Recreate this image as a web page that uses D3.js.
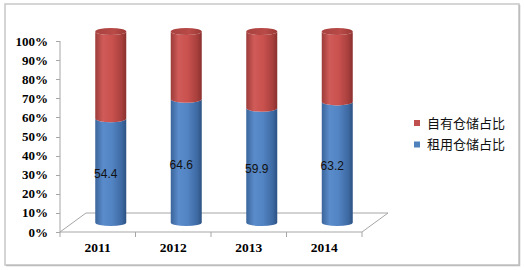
<!DOCTYPE html>
<html>
<head>
<meta charset="utf-8">
<script src="https://cdn.jsdelivr.net/npm/d3@7"></script>
<style>
  body { margin: 0; background: #fff; }
  svg { display: block; }
</style>
</head>
<body>
<script>
var years = ["2011", "2012", "2013", "2014"],
    rented = [54.4, 64.6, 59.9, 63.2],
    seriesNames = ["自有仓储占比", "租用仓储占比"],
    yTicks = [0, 10, 20, 30, 40, 50, 60, 70, 80, 90, 100];

var width = 524, height = 270;

// plot floor: front edge y=232, back edge shifted by depth
var depthX = 26, depthY = -19;

var x = d3.scaleBand()
    .domain(years)
    .range([60, 362]);

var y = d3.scaleLinear()
    .domain([0, 100])
    .range([232, 41]);

var svg = d3.select("body").append("svg")
    .attr("width", width)
    .attr("height", height);

var defs = svg.append("defs");

function gradient(id, stops) {
  var g = defs.append("linearGradient").attr("id", id)
      .attr("x1", "0%").attr("x2", "100%").attr("y1", "0%").attr("y2", "0%");
  stops.forEach(function(s) {
    g.append("stop").attr("offset", s[0]).attr("stop-color", s[1]);
  });
}
gradient("blueG", [["0%", "#3b659b"], ["25%", "#5a8bca"], ["55%", "#5283c2"], ["85%", "#3e6aa3"], ["100%", "#2d5283"]]);
gradient("redG", [["0%", "#9c3c3a"], ["25%", "#d05b58"], ["55%", "#c9514e"], ["85%", "#a8403d"], ["100%", "#8a302e"]]);
gradient("topG", [["0%", "#a84240"], ["60%", "#b94a47"], ["100%", "#9a3835"]]);

// chart border
svg.append("rect")
    .attr("x", 5).attr("y", 4)
    .attr("width", 514).attr("height", 261)
    .attr("fill", "none")
    .attr("stroke", "#c8c8c8")
    .attr("stroke-width", 1.5);
svg.append("path")
    .attr("d", "M519.5,5V265.5H6")
    .attr("fill", "none")
    .attr("stroke", "#bdbdbd")
    .attr("stroke-width", 1.5);

// floor
var x0 = x.range()[0], x1 = x.range()[1], yb = y(0);
svg.append("path")
    .attr("d", "M" + x0 + "," + yb + "L" + (x0 + depthX) + "," + (yb + depthY) +
               "L" + (x1 + depthX) + "," + (yb + depthY) + "L" + x1 + "," + yb + "Z")
    .attr("fill", "none")
    .attr("stroke", "#a6a6a6")
    .attr("stroke-width", 1);

// value axis
svg.append("line")
    .attr("x1", x0).attr("x2", x0)
    .attr("y1", y(100)).attr("y2", y(0))
    .attr("stroke", "#a6a6a6");

svg.selectAll(".ytick").data(yTicks).enter().append("line")
    .attr("x1", x0 - 4).attr("x2", x0)
    .attr("y1", function(d) { return Math.round(y(d)) + 0.5; })
    .attr("y2", function(d) { return Math.round(y(d)) + 0.5; })
    .attr("stroke", "#a6a6a6");

svg.selectAll(".ylab").data(yTicks).enter().append("text")
    .attr("x", 48)
    .attr("y", function(d) { return y(d); })
    .attr("dy", "0.35em")
    .attr("text-anchor", "end")
    .attr("font-family", "Liberation Serif")
    .attr("font-weight", "bold")
    .attr("font-size", 13)
    .attr("fill", "#000")
    .text(function(d) { return d + "%"; });

// category ticks
var catEdges = years.map(function(d) { return x(d); }).concat([x1]);
svg.selectAll(".xtick").data(catEdges).enter().append("line")
    .attr("x1", function(d) { return d; }).attr("x2", function(d) { return d; })
    .attr("y1", yb).attr("y2", yb + 5)
    .attr("stroke", "#a6a6a6");

svg.selectAll(".xlab").data(years).enter().append("text")
    .attr("x", function(d) { return x(d) + x.bandwidth() / 2; })
    .attr("y", 252)
    .attr("text-anchor", "middle")
    .attr("font-family", "Liberation Serif")
    .attr("font-weight", "bold")
    .attr("font-size", 13.5)
    .attr("fill", "#000")
    .text(function(d) { return d; });

// cylinders
var rx = 15.5, ry = 3.6;

function body(cx, yt, ybot) {
  return "M" + (cx - rx) + "," + yt +
         "L" + (cx - rx) + "," + ybot +
         "A" + rx + "," + ry + " 0 0 0 " + (cx + rx) + "," + ybot +
         "L" + (cx + rx) + "," + yt +
         "A" + rx + "," + ry + " 0 0 1 " + (cx - rx) + "," + yt + "Z";
}

years.forEach(function(yr, i) {
  var cx = x(yr) + x.bandwidth() / 2 + depthX / 2,
      off = depthY / 2,
      yv = y(rented[i]) + off,
      y0 = y(0) + off,
      y100 = y(100) + off;

  // rented (blue) from 0 up to value
  svg.append("path")
      .attr("d", body(cx, yv, y0))
      .attr("fill", "url(#blueG)");

  // owned (red) on top
  svg.append("path")
      .attr("d", body(cx, y100, yv))
      .attr("fill", "url(#redG)");

  svg.append("ellipse")
      .attr("cx", cx).attr("cy", y100)
      .attr("rx", rx).attr("ry", ry)
      .attr("fill", "url(#topG)");

  svg.append("text")
      .attr("x", cx - 5)
      .attr("y", (yv + y0) / 2 + 3.5)
      .attr("dy", "0.35em")
      .attr("text-anchor", "middle")
      .attr("font-family", "Liberation Sans")
      .attr("font-size", 12)
      .attr("fill", "#111")
      .text(rented[i]);
});

// legend
var legendColors = ["#c0504d", "#4f81bd"];
var legend = svg.selectAll(".leg").data(seriesNames).enter().append("g")
    .attr("transform", function(d, i) { return "translate(414," + (123 + i * 21.5) + ")"; });

legend.append("rect")
    .attr("x", 0).attr("y", -3)
    .attr("width", 6).attr("height", 6)
    .attr("fill", function(d, i) { return legendColors[i]; });

legend.append("text")
    .attr("x", 13)
    .attr("dy", "0.36em")
    .attr("font-family", "Noto Sans CJK SC")
    .attr("font-size", 13)
    .attr("fill", "#111")
    .text(function(d) { return d; });
</script>
</body>
</html>
